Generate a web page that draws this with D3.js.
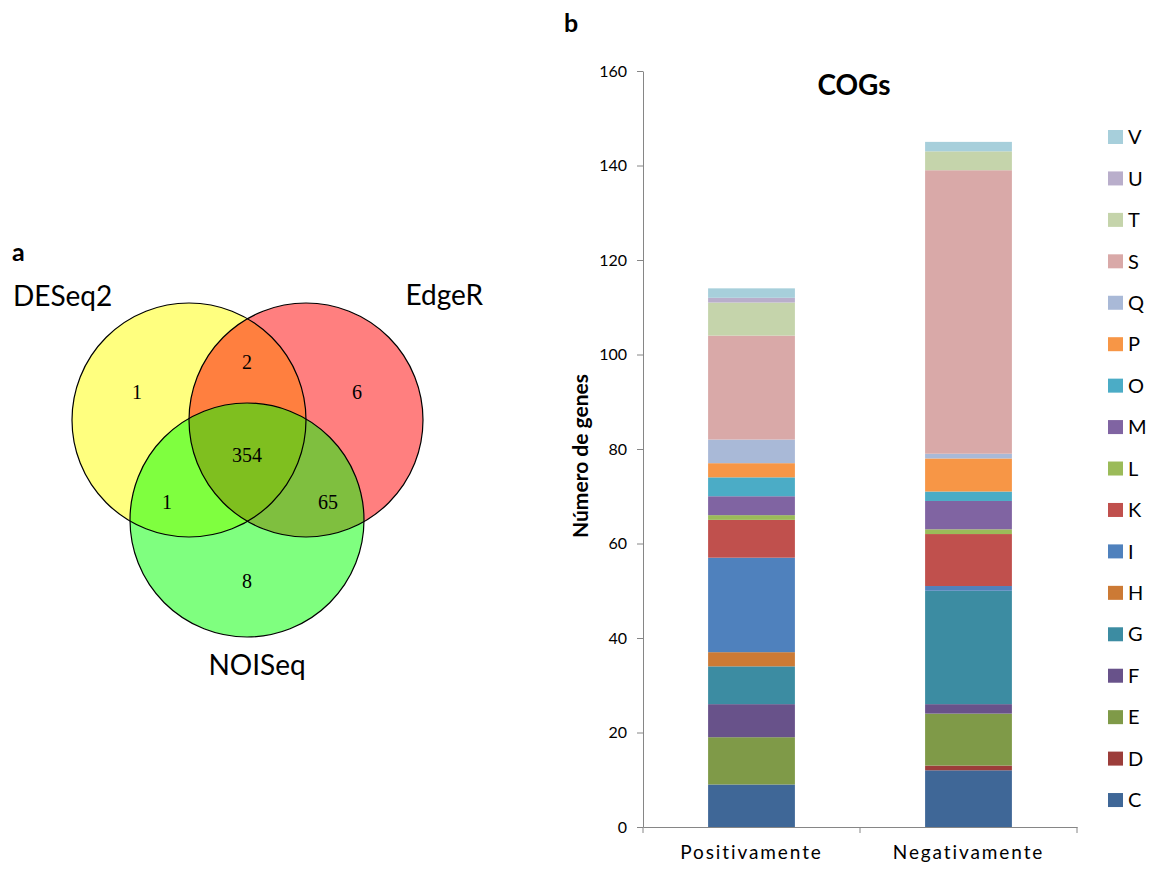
<!DOCTYPE html>
<html>
<head>
<meta charset="utf-8">
<script src="https://cdn.jsdelivr.net/npm/d3@7"></script>
<style>
  body { margin: 0; background: #fff; }
  svg { font-family: Lato, "Open Sans", sans-serif; }
  .axis path, .axis line { stroke: #868686; }
  .axis text { fill: #000; }
</style>
</head>
<body>
<svg width="1154" height="874"></svg>
<script>
// venn counts
var vennSets = ["DESeq2", "EdgeR", "NOISeq"];
var vennCounts = [
  { region: "DESeq2", value: 1 },
  { region: "DESeq2&EdgeR", value: 2 },
  { region: "EdgeR", value: 6 },
  { region: "all", value: 354 },
  { region: "DESeq2&NOISeq", value: 1 },
  { region: "EdgeR&NOISeq", value: 65 },
  { region: "NOISeq", value: 8 }
];

// COG bars
var categories = ["Positivamente", "Negativamente"];
var cogs = ["C", "D", "E", "F", "G", "H", "I", "K", "L", "M", "O", "P", "Q", "S", "T", "U", "V"];
var positivamente = [9, 0, 10, 7, 8, 3, 20, 8, 1, 4, 4, 3, 5, 22, 7, 1, 2];
var negativamente = [12, 1, 11, 2, 24, 0, 1, 11, 1, 6, 2, 7, 1, 60, 4, 0, 2];
var yTicks = [0, 20, 40, 60, 80, 100, 120, 140, 160];

var cogColors = ["#3f6797", "#9c3d3a", "#7f9a48", "#68528a", "#3c8ca2", "#cc7a35", "#4f81bd",
  "#c0504d", "#9bbb59", "#8064a2", "#4bacc6", "#f79646", "#a9b9d7", "#d9a9a8", "#c5d4ab", "#b9aecb", "#a7cfdb"];

var svg = d3.select("svg");

// ---------- a: venn ----------
var va = svg.append("g");
va.append("text").attr("x", 12).attr("y", 261).attr("font-size", 25).attr("font-weight", "bold").text("a");

var circles = [
  { cx: 189, cy: 420, color: "yellow" },
  { cx: 306, cy: 420, color: "red" },
  { cx: 247, cy: 520, color: "lime" }
];
var r = 117;
va.selectAll("circle.fill").data(circles).enter().append("circle")
  .attr("class", "fill")
  .attr("cx", function (d) { return d.cx; })
  .attr("cy", function (d) { return d.cy; })
  .attr("r", r)
  .attr("fill", function (d) { return d.color; })
  .attr("fill-opacity", 0.5);
va.selectAll("circle.edge").data(circles).enter().append("circle")
  .attr("class", "edge")
  .attr("cx", function (d) { return d.cx; })
  .attr("cy", function (d) { return d.cy; })
  .attr("r", r)
  .attr("fill", "none")
  .attr("stroke", "#000")
  .attr("stroke-width", 1.2);

var countPos = {
  "DESeq2": [137, 392], "DESeq2&EdgeR": [247, 362], "EdgeR": [357, 392], "all": [247, 455],
  "DESeq2&NOISeq": [167, 502], "EdgeR&NOISeq": [328, 502], "NOISeq": [247, 581]
};
va.selectAll("text.count").data(vennCounts).enter().append("text")
  .attr("class", "count")
  .attr("x", function (d) { return countPos[d.region][0]; })
  .attr("y", function (d) { return countPos[d.region][1]; })
  .attr("dy", "0.35em")
  .attr("text-anchor", "middle")
  .attr("font-family", "'Liberation Serif', 'DejaVu Serif', serif")
  .attr("font-size", 20)
  .text(function (d) { return d.value; });

var setLabelPos = [[13, 306, "start"], [483, 305, "end"], [257, 675, "middle"]];
va.selectAll("text.set").data(vennSets).enter().append("text")
  .attr("class", "set")
  .attr("x", function (d, i) { return setLabelPos[i][0]; })
  .attr("y", function (d, i) { return setLabelPos[i][1]; })
  .attr("text-anchor", function (d, i) { return setLabelPos[i][2]; })
  .attr("font-size", 28)
  .text(function (d) { return d; });

// ---------- b: stacked bars ----------
svg.append("text").attr("x", 564).attr("y", 32).attr("font-size", 25).attr("font-weight", "bold").text("b");

var x = d3.scaleBand().domain(categories).range([643, 1077]);
var y = d3.scaleLinear().domain([0, 160]).range([827, 71]);
var color = d3.scaleOrdinal().domain(cogs).range(cogColors);
var barW = x.bandwidth() * 0.4;

var rows = categories.map(function (c, i) {
  var row = { category: c };
  var vals = i === 0 ? positivamente : negativamente;
  cogs.forEach(function (k, j) { row[k] = vals[j]; });
  return row;
});
var series = d3.stack().keys(cogs)(rows);

var gb = svg.append("g");
gb.selectAll("g.layer").data(series).enter().append("g")
  .attr("class", "layer")
  .attr("fill", function (d) { return color(d.key); })
  .selectAll("rect").data(function (d) { return d; }).enter().append("rect")
  .attr("x", function (d) { return x(d.data.category) + (x.bandwidth() - barW) / 2; })
  .attr("y", function (d) { return y(d[1]); })
  .attr("width", barW)
  .attr("height", function (d) { return y(d[0]) - y(d[1]); });

var yAxis = gb.append("g")
  .attr("class", "axis")
  .attr("transform", "translate(643,0)")
  .call(d3.axisLeft(y).tickValues(yTicks).tickSize(6).tickSizeOuter(0).tickPadding(10));
yAxis.selectAll("text").style("font-family", "Lato, sans-serif").style("font-size", "16px");

var xAxis = gb.append("g")
  .attr("class", "axis")
  .attr("transform", "translate(0,827)")
  .call(d3.axisBottom(x).tickSize(0).tickSizeOuter(0).tickPadding(19));
xAxis.selectAll("text")
  .style("font-family", "Lato, sans-serif")
  .style("font-size", "19px")
  .style("letter-spacing", "1.9px");
xAxis.selectAll(".sep").data([643].concat(categories.map(function (c) { return x(c) + x.bandwidth(); })))
  .enter().append("line")
  .attr("class", "sep")
  .attr("x1", function (d) { return d; }).attr("x2", function (d) { return d; })
  .attr("y1", 0).attr("y2", 6);

gb.append("text")
  .attr("x", 854).attr("y", 95)
  .attr("text-anchor", "middle")
  .attr("font-size", 28).attr("font-weight", "bold")
  .text("COGs");

gb.append("text")
  .attr("transform", "translate(588,456) rotate(-90)")
  .attr("text-anchor", "middle")
  .attr("font-size", 21).attr("font-weight", "bold")
  .text("Número de genes");

// legend, top to bottom V..C
var legendKeys = cogs.slice().reverse();
var lg = gb.selectAll("g.legend").data(legendKeys).enter().append("g")
  .attr("class", "legend")
  .attr("transform", function (d, i) { return "translate(1108," + (137 + i * 41.44) + ")"; });
lg.append("rect").attr("x", 0).attr("y", -7).attr("width", 15).attr("height", 14)
  .attr("fill", function (d) { return color(d); });
lg.append("text").attr("x", 20).attr("dy", "0.36em").attr("font-size", 20).text(function (d) { return d; });
</script>
</body>
</html>
